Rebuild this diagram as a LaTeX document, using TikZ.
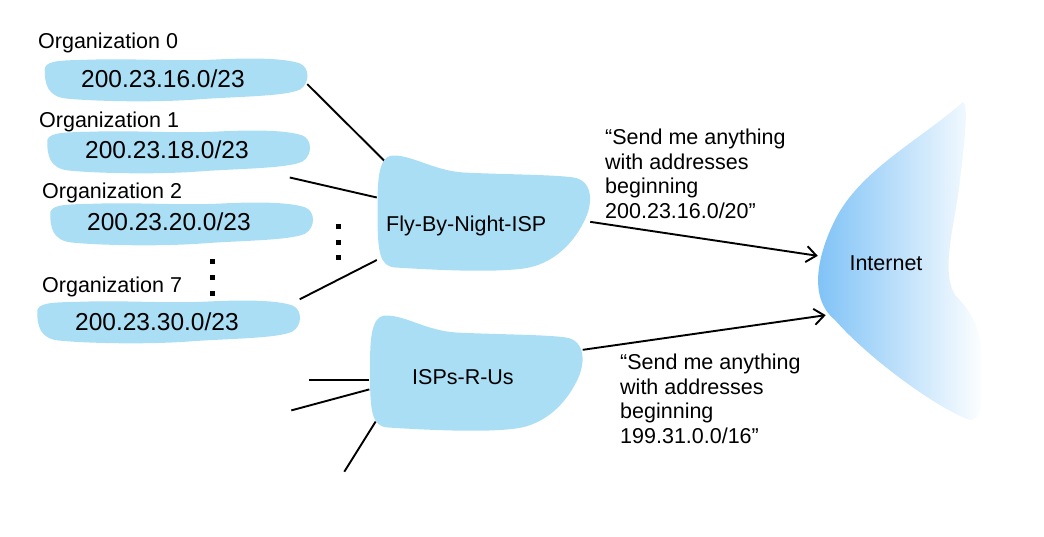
\documentclass[tikz,border=0pt]{standalone}
\usepackage{fontspec}
\setmainfont{Liberation Sans}
\usetikzlibrary{arrows.meta}
\pgfdeclarelayer{back}
\pgfsetlayers{back,main}
\definecolor{cloudblue}{RGB}{170,222,245}
\definecolor{inetblue}{RGB}{122,192,246}

\begin{document}
\begin{tikzpicture}[
    x=1pt, y=-1pt,
    orgbox/.style={minimum width=262pt, minimum height=44pt, inner sep=0pt},
    ispbox/.style={minimum width=213pt, minimum height=118pt, inner sep=0pt},
    txt/.style={font=\fontsize{21.5}{24.5}\selectfont, inner sep=0pt, anchor=base west},
    iptxt/.style={font=\fontsize{24.5}{28}\selectfont, inner sep=0pt, anchor=base west},
    msg/.style={font=\fontsize{21.5}{24.5}\selectfont, inner sep=0pt, align=left, anchor=north west},
    link/.style={line width=1.9pt},
    op/.style={-{Straight Barb[length=10pt, width=16pt]}, line width=1.9pt},
    orgblob/.pic={\fill[cloudblue] (-131,-12)
        .. controls (-128,-20) and (-110,-19) .. (-80,-20)
        .. controls (-40,-21) and (0,-18) .. (40,-20)
        .. controls (80,-22) and (110,-21) .. (124,-16)
        .. controls (134,-12) and (134,4) .. (124,10)
        .. controls (110,17) and (60,17) .. (20,20)
        .. controls (-20,23) and (-80,22) .. (-110,19)
        .. controls (-128,17) and (-132,5) .. (-131,-12) -- cycle;},
    ispblob/.pic={\fill[cloudblue] (-106,0)
        .. controls (-106,-30) and (-106,-57) .. (-90,-57)
        .. controls (-70,-57) and (-50,-42) .. (-20,-40)
        .. controls (20,-38) and (70,-38) .. (90,-35)
        .. controls (110,-32) and (110,-8) .. (100,10)
        .. controls (90,30) and (70,52) .. (40,56)
        .. controls (10,60) and (-40,58) .. (-88,55)
        .. controls (-104,54) and (-106,40) .. (-106,0) -- cycle;},
  ]
  \useasboundingbox (0,0) rectangle (1044,536);

  % ---------- organisations ----------
  \node[orgbox] (org0) at (176,79.5) {};
  \node[orgbox] (org1) at (178.5,151.5) {};
  \node[orgbox] (org2) at (181.5,223.5) {};
  \node[orgbox] (org7) at (168.5,321.5) {};
  \foreach \o in {org0,org1,org2,org7}
    \pic at (\o) {orgblob};

  \node[txt] (title0) at (38,48) {Organization 0};
  \node[txt] (title1) at (39,127) {Organization 1};
  \node[txt] (title2) at (42,198) {Organization 2};
  \node[txt] (title7) at (42,292) {Organization 7};

  \node[iptxt] (ip0) at (81,87) {200.23.16.0/23};
  \node[iptxt] (ip1) at (85,158) {200.23.18.0/23};
  \node[iptxt] (ip2) at (87,230) {200.23.20.0/23};
  \node[iptxt] (ip7) at (75,330) {200.23.30.0/23};

  % ---------- ellipsis dots ----------
  \foreach \y in {261,277,293}
    \fill (212.5,\y) +(-2.5,-2.5) rectangle +(2.5,2.5);
  \foreach \y in {226,242,257}
    \fill (338,\y) +(-2.5,-2.5) rectangle +(2.5,2.5);

  % ---------- ISPs ----------
  \node[ispbox] (fbn) at (483.5,212.5) {};
  \node[ispbox] (rus) at (476,372.5) {};
  \pic at (fbn) {ispblob};
  \pic at (rus) {ispblob};
  \node[txt] (fbntxt) at (386,231) {Fly-By-Night-ISP};
  \node[txt] (rustxt) at (412,384) {ISPs-R-Us};

  % ---------- Internet ----------
  \shade[left color=inetblue, right color=white] (963,102)
    .. controls (968,105) and (966,130) .. (960,180)
    .. controls (955,225) and (940,270) .. (955,295)
    .. controls (972,312) and (982,330) .. (982,360)
    .. controls (982,390) and (985,420) .. (970,420)
    .. controls (940,410) and (870,360) .. (835,320)
    .. controls (810,300) and (815,260) .. (835,220)
    .. controls (860,170) and (920,140) .. (963,102) -- cycle;
  \node[minimum width=136pt, minimum height=320pt, inner sep=0pt,
        font=\fontsize{21.5}{24.5}\selectfont] (inet) at (886,263) {Internet};

  % ---------- advertisements ----------
  \node[msg] (adv1) at (605,129)
    {“Send me anything\\with addresses\\beginning\\200.23.16.0/20”};
  \node[msg] (adv2) at (620,354)
    {“Send me anything\\with addresses\\beginning\\199.31.0.0/16”};

  % ---------- links ----------
  \begin{pgfonlayer}{back}
    \draw[link, shorten >=-15pt] (org0.-2) -- (fbn.north west);
    \draw[link] (fbn.172) -- ++(-87,-20);
    \draw[link] (org7.north east) -- (fbn.204);
    \draw[link] (rus.184) -- ++(-60,0);
    \draw[link] (rus.189) -- ++(-78,21);
    \draw[link, shorten <=-12pt] (rus.south west) -- ++(-25,40);
  \end{pgfonlayer}
  \draw[op] (fbn.355) -- (inet.174);
  \draw[op, shorten >=-8pt] (rus.12) -- (inet.218);

\end{tikzpicture}
\end{document}
